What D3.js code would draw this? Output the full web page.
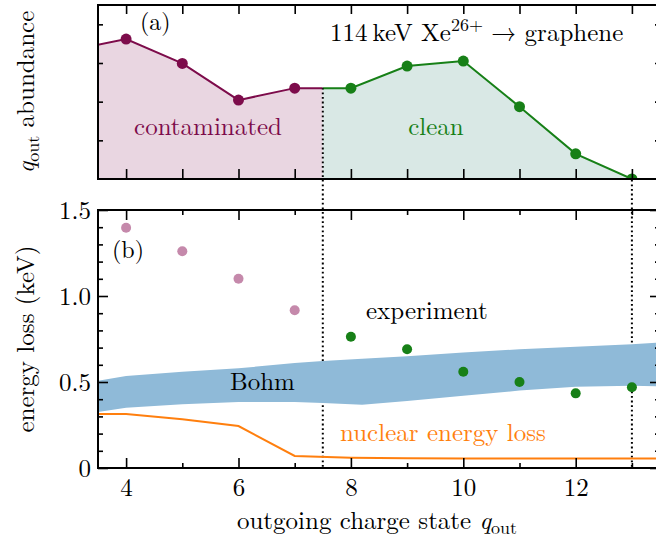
<!DOCTYPE html>
<html lang="en">
<head>
    <meta charset="UTF-8">
    <title>Charge state dependent energy loss</title>
    <script src="https://d3js.org/d3.v7.min.js"></script>
    <style>
        body { margin: 0; background: white; }
        .frame { fill: none; stroke: black; stroke-width: 2; }
        .tick line { stroke: black; stroke-width: 1.6; }
        .dots { stroke: black; stroke-width: 2; stroke-dasharray: 1.8 2.8; }
    </style>
</head>
<body>
<script>
    // outgoing charge states and abundance (panel a)
    const qTop = [3, 4, 5, 6, 7, 8, 9, 10, 11, 12, 13];
    const abundance = [3.32, 3.62, 2.99, 2.04, 2.35, 2.35, 2.92, 3.05, 1.87, 0.65, 0];

    // measured energy loss (panel b)
    const qExp = [4, 5, 6, 7, 8, 9, 10, 11, 12, 13];
    const energyLoss = [1.397, 1.26, 1.10, 0.917, 0.763, 0.69, 0.56, 0.50, 0.434, 0.469];

    // Bohm band
    const qBohm = [3, 4, 5, 6, 7, 7.5, 8.2, 9, 10, 11, 12, 13, 14];
    const bohmLow = [0.30, 0.35, 0.37, 0.383, 0.383, 0.378, 0.368, 0.39, 0.42, 0.45, 0.472, 0.478, 0.47];
    const bohmHigh = [0.48, 0.535, 0.56, 0.58, 0.61, 0.622, 0.635, 0.65, 0.672, 0.69, 0.705, 0.72, 0.74];

    // nuclear energy loss
    const qNuclear = [3, 4, 5, 6, 7, 8, 9, 10, 11, 12, 13, 14];
    const nuclear = [0.314, 0.314, 0.283, 0.244, 0.07, 0.06, 0.056, 0.055, 0.055, 0.055, 0.055, 0.055];

    // contaminated / clean boundaries
    const cutoffs = [7.5, 13];

    const xTicksMajor = [4, 6, 8, 10, 12];
    const xTicksMinor = [5, 7, 9, 11, 13];
    const yTicksMajor = [0, 0.5, 1.0, 1.5];
    const yTicksMinor = d3.range(0, 16).map(i => i / 10).filter(v => !yTicksMajor.includes(v));
    const abundanceTicks = [1, 2, 3, 4];

    const W = 656, H = 541;
    const left = 98, right = 660;
    const topA = 5, botA = 179;
    const topB = 210, botB = 468;
    const serif = "\"Latin Modern Roman\", \"Liberation Serif\", serif";

    const maroon = "#7d0c4b", pinkFill = "#e9d6e1", pinkDot = "#c589ab";
    const green = "#178017", greenFill = "#d9e8e5";
    const blue = "#8fbad8", orange = "#ff7f0e";

    const svg = d3.select("body").append("svg")
        .attr("width", W).attr("height", H);

    const defs = svg.append("defs");

    const x = d3.scaleLinear().domain([3.5, 13.5]).range([left, right]);
    const yA = d3.scaleLinear().domain([0, 4.5]).range([botA, topA]);
    const yB = d3.scaleLinear().domain([0, 1.5]).range([botB, topB]);

    const topData = qTop.map((q, i) => ({q, v: abundance[i]}));

    // clip regions
    defs.append("clipPath").attr("id", "clipA")
        .append("rect").attr("x", left).attr("y", topA).attr("width", right - left).attr("height", botA - topA);
    defs.append("clipPath").attr("id", "clipB")
        .append("rect").attr("x", left).attr("y", topB).attr("width", right - left).attr("height", botB - topB);
    defs.append("clipPath").attr("id", "clipDirty")
        .append("rect").attr("x", left).attr("y", 0).attr("width", x(cutoffs[0]) - left).attr("height", H);
    defs.append("clipPath").attr("id", "clipClean")
        .append("rect").attr("x", x(cutoffs[0])).attr("y", 0).attr("width", right - x(cutoffs[0])).attr("height", H);

    const area = d3.area().x(d => x(d.q)).y0(yA(0)).y1(d => yA(d.v));
    const line = d3.line().x(d => x(d.q)).y(d => yA(d.v));

    // dotted lines only below the curve in panel (a)
    const dotClip = defs.append("clipPath").attr("id", "clipDots");
    dotClip.append("path").attr("d", area(topData));
    dotClip.append("rect").attr("x", 0).attr("y", botA).attr("width", W).attr("height", botB - botA);

    // ---------- panel (a) ----------
    const gA = svg.append("g").attr("clip-path", "url(#clipA)");
    [["clipDirty", pinkFill, maroon], ["clipClean", greenFill, green]].forEach(([id, fill, stroke]) => {
        const g = gA.append("g").attr("clip-path", `url(#${id})`);
        g.append("path").attr("d", area(topData)).attr("fill", fill);
        g.append("path").attr("d", line(topData)).attr("fill", "none")
            .attr("stroke", stroke).attr("stroke-width", 2);
    });
    gA.selectAll(".ptA").data(topData.filter(d => d.q >= 4)).join("circle")
        .attr("cx", d => x(d.q)).attr("cy", d => yA(d.v)).attr("r", 5.5)
        .attr("fill", d => d.q < cutoffs[0] ? maroon : green);

    // dotted separators across both panels
    svg.append("g").attr("clip-path", "url(#clipDots)")
        .selectAll("line").data(cutoffs).join("line")
        .attr("class", "dots")
        .attr("x1", d => x(d)).attr("x2", d => x(d))
        .attr("y1", topA).attr("y2", botB);

    // ---------- panel (b) ----------
    const gB = svg.append("g").attr("clip-path", "url(#clipB)");
    const band = d3.area()
        .x((d, i) => x(qBohm[i]))
        .y0((d, i) => yB(bohmLow[i]))
        .y1((d, i) => yB(bohmHigh[i]));
    gB.append("path").attr("d", band(qBohm)).attr("fill", blue);

    const nucLine = d3.line().x((d, i) => x(qNuclear[i])).y(d => yB(d));
    gB.append("path").attr("d", nucLine(nuclear)).attr("fill", "none")
        .attr("stroke", orange).attr("stroke-width", 2);

    gB.selectAll(".ptB").data(qExp).join("circle")
        .attr("cx", d => x(d)).attr("cy", (d, i) => yB(energyLoss[i])).attr("r", 5)
        .attr("fill", d => d < cutoffs[0] ? pinkDot : green);

    // ---------- axes / ticks ----------
    function ticks(transform, axisFn, scale, values, size) {
        const g = svg.append("g").attr("transform", transform)
            .call(axisFn(scale).tickValues(values).tickSize(-size).tickFormat(""));
        g.select(".domain").remove();
        return g;
    }

    // panel (a)
    ticks(`translate(0,${botA})`, d3.axisBottom, x, xTicksMajor.concat(xTicksMinor), 10);
    ticks(`translate(0,${topA})`, d3.axisTop, x, xTicksMajor.concat(xTicksMinor), 9);
    ticks(`translate(${left},0)`, d3.axisLeft, yA, abundanceTicks, 5);
    ticks(`translate(${right},0)`, d3.axisRight, yA, abundanceTicks, 5);

    // panel (b)
    ticks(`translate(0,${botB})`, d3.axisBottom, x, xTicksMajor, 10);
    ticks(`translate(0,${botB})`, d3.axisBottom, x, xTicksMinor, 5);
    ticks(`translate(0,${topB})`, d3.axisTop, x, xTicksMajor, 10);
    ticks(`translate(0,${topB})`, d3.axisTop, x, xTicksMinor, 5);
    ticks(`translate(${left},0)`, d3.axisLeft, yB, yTicksMajor, 10);
    ticks(`translate(${left},0)`, d3.axisLeft, yB, yTicksMinor, 5);
    ticks(`translate(${right},0)`, d3.axisRight, yB, yTicksMajor, 10);
    ticks(`translate(${right},0)`, d3.axisRight, yB, yTicksMinor, 5);

    // tick labels
    const xLab = svg.append("g").attr("transform", `translate(0,${botB})`)
        .call(d3.axisBottom(x).tickValues(xTicksMajor).tickSize(0).tickPadding(10).tickFormat(d3.format("d")));
    xLab.select(".domain").remove();
    const yLab = svg.append("g").attr("transform", `translate(${left},0)`)
        .call(d3.axisLeft(yB).tickValues(yTicksMajor).tickSize(0).tickPadding(7)
            .tickFormat(d => d === 0 ? "0" : d3.format(".1f")(d)));
    yLab.select(".domain").remove();
    [xLab, yLab].forEach(g => g.selectAll("text").style("font-size", "25px"));

    // frames
    svg.append("rect").attr("class", "frame")
        .attr("x", left).attr("y", topA).attr("width", right - left).attr("height", botA - topA);
    svg.append("rect").attr("class", "frame")
        .attr("x", left).attr("y", topB).attr("width", right - left).attr("height", botB - topB);

    // ---------- annotations ----------
    const txt = (tx, ty, s, size, color, anchor) => svg.append("text")
        .attr("x", tx).attr("y", ty).style("font-size", size + "px")
        .attr("text-anchor", anchor || "start")
        .attr("fill", color || "black").text(s);

    txt(140, 30, "(a)", 24);
    txt(112, 258, "(b)", 24);

    const title = txt(330, 41, "114\u2009keV Xe", 25);
    title.append("tspan").attr("dy", -10).style("font-size", "18px").text("26+");
    title.append("tspan").attr("dy", 10).text(" \u2192 graphene");

    txt(208, 135, "contaminated", 25, maroon, "middle");
    txt(436, 135, "clean", 25, green, "middle");
    txt(366, 319, "experiment", 25);
    txt(230, 390, "Bohm", 25);
    txt(340, 441, "nuclear energy loss", 25, orange);

    // axis titles
    const xTitle = txt(377, 529, "outgoing charge state ", 25, "black", "middle");
    xTitle.append("tspan").style("font-style", "italic").text("q");
    xTitle.append("tspan").attr("dy", 5).style("font-size", "18px").text("out");

    svg.append("text")
        .attr("transform", `translate(34,${(topB + botB) / 2}) rotate(-90)`)
        .attr("text-anchor", "middle").style("font-size", "25px")
        .text("energy loss (keV)");

    const yTitleA = svg.append("text")
        .attr("transform", `translate(34,${(topA + botA) / 2}) rotate(-90)`)
        .attr("text-anchor", "middle").style("font-size", "25px");
    yTitleA.append("tspan").style("font-style", "italic").text("q");
    yTitleA.append("tspan").attr("dy", 5).style("font-size", "18px").text("out");
    yTitleA.append("tspan").attr("dy", -5).text(" abundance");

    // serif face on every text element
    svg.selectAll("text").style("font-family", serif);
</script>
</body>
</html>
